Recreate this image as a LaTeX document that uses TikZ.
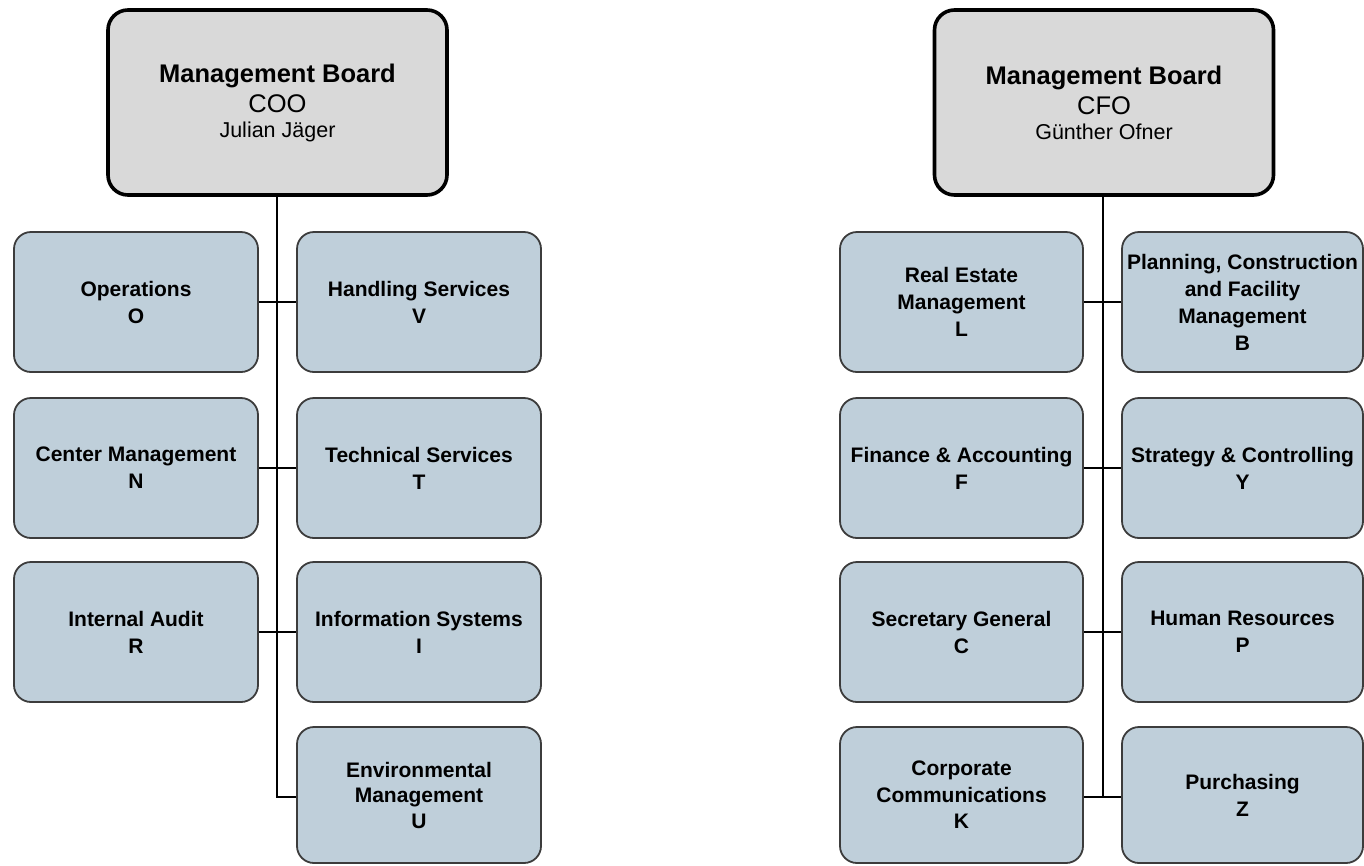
\documentclass[tikz,border=0pt]{standalone}
\usepackage{fontspec}
\setmainfont{Liberation Sans}
\definecolor{boardfill}{HTML}{D9D9D9}
\definecolor{unitfill}{HTML}{BFCFDA}
\definecolor{unitedge}{HTML}{3C3C3C}
\begin{document}
\begin{tikzpicture}[x=1pt,y=-1pt,
  board/.style={draw=black, line width=3.6pt, fill=boardfill, rounded corners=20pt,
    minimum width=339pt, minimum height=185pt, align=center, inner sep=0pt,
    font=\fontsize{25.5}{30}\selectfont},
  unit/.style={draw=unitedge, line width=1.8pt, fill=unitfill, rounded corners=17pt,
    minimum height=140pt, align=center, inner sep=0pt,
    font=\fontsize{21}{27}\selectfont\bfseries},
  lcol/.style={unit, minimum width=244pt},
  rcol/.style={unit, minimum width=243pt},
  link/.style={draw=black, line width=1.6pt}]
\useasboundingbox (0,0) rectangle (1364,865);

% ---- COO division ----
\node[board] (coo) at (277.5,102.5)
  {\bfseries Management Board\\
   \mdseries COO\\[-5pt]
   \fontsize{21.5}{25}\selectfont Julian Jäger};

\node[lcol] (o) at (136,302) {Operations\\O};
\node[lcol] (v) at (419,302) {Handling Services\\V};
\node[lcol] (n) at (136,468) {Center Management\\N};
\node[lcol] (t) at (419,468) {Technical Services\\T};
\node[lcol] (r) at (136,632) {Internal Audit\\R};
\node[lcol] (i) at (419,632) {Information Systems\\I};
\node[lcol, minimum height=136pt, font=\fontsize{21}{25.5}\selectfont\bfseries] (u) at (419,795)
  {Environmental\\Management\\U};

\coordinate (cooend) at (277,797);
\draw[link] (coo.south -| cooend) -- (cooend) -- (cooend -| u.west);
\draw[link] (o.east) -- (v.west);
\draw[link] (n.east) -- (t.west);
\draw[link] (r.east) -- (i.west);

% ---- CFO division ----
\node[board] (cfo) at (1104,102.5)
  {\bfseries Management Board\\
   \mdseries CFO\\[-5pt]
   \fontsize{21.5}{25}\selectfont Günther Ofner};

\node[rcol] (l) at (961.5,302) {Real Estate\\Management\\L};
\node[rcol, minimum width=241pt] (b) at (1242.5,302)
  {Planning, Construction\\and Facility\\Management\\B};
\node[rcol] (f) at (961.5,468) {Finance \& Accounting\\F};
\node[rcol, minimum width=241pt] (y) at (1242.5,468) {Strategy \& Controlling\\Y};
\node[rcol] (c) at (961.5,632) {Secretary General\\C};
\node[rcol, minimum width=241pt] (p) at (1242.5,632) {Human Resources\\P};
\node[rcol, minimum height=136pt, font=\fontsize{21}{26.5}\selectfont\bfseries] (k) at (961.5,795)
  {Corporate\\Communications\\K};
\node[rcol, minimum width=241pt, minimum height=136pt] (z) at (1242.5,795) {Purchasing\\Z};

\coordinate (cfoend) at (1103,797);
\draw[link] (cfo.south -| cfoend) -- (cfoend);
\draw[link] (l.east) -- (b.west);
\draw[link] (f.east) -- (y.west);
\draw[link] (c.east) -- (p.west);
\draw[link] (k.east |- cfoend) -- (z.west |- cfoend);
\end{tikzpicture}
\end{document}
